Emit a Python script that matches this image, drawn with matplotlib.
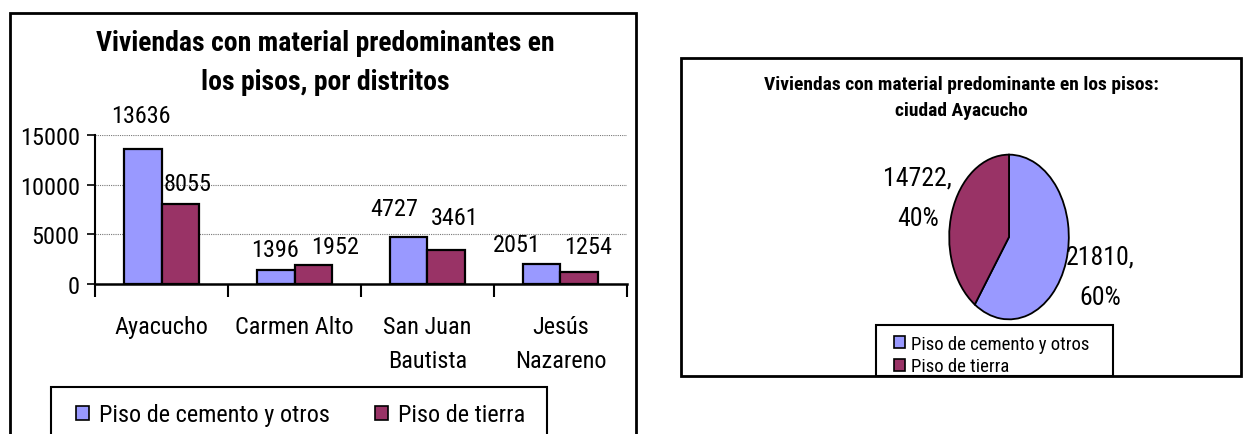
import matplotlib
matplotlib.use("Agg")
import matplotlib.pyplot as plt
from matplotlib.patches import Rectangle, Patch
from matplotlib import font_manager

# ---- data ----
districts = ["Ayacucho", "Carmen Alto", "San Juan\nBautista", "Jesús\nNazareno"]
cemento = [13636, 1396, 4727, 2051]
tierra = [8055, 1952, 3461, 1254]
series_names = ["Piso de cemento y otros", "Piso de tierra"]
yticks = [0, 5000, 10000, 15000]
pie_values = [21810, 14722]
bar_title = "Viviendas con material predominantes en\nlos pisos, por distritos"
pie_title = "Viviendas con material predominante en los pisos:\nciudad Ayacucho"

# style: data-label nudges (pixels, as placed in the original chart)
cemento_label_nudge = [(-2, 33), (-1, 21), (-15, 29), (-25, 19)]
tierra_label_nudge = [(8, 20), (22, 18), (9, 32), (9, 25)]

BLUE = "#9999FF"
RED = "#993366"

names = {f.name for f in font_manager.fontManager.ttflist}
FONT = "Liberation Sans"
for cand in ("Liberation Sans Narrow", "Arial Narrow", "Roboto Condensed", "Archivo Narrow",
             "PT Sans Narrow", "Liberation Sans"):
    if cand in names:
        FONT = cand
        break
plt.rcParams["font.family"] = [FONT, "DejaVu Sans"]

W, H = 1250, 435
fig = plt.figure(figsize=(W / 100, H / 100), dpi=100)


def rect(x0, y0, x1, y1):
    return [x0 / W, 1 - y1 / H, (x1 - x0) / W, (y1 - y0) / H]


def box(x0, y0, x1, y1, lw=2.0):
    fig.patches.append(Rectangle((x0 / W, 1 - y1 / H), (x1 - x0) / W, (y1 - y0) / H,
                                 transform=fig.transFigure, fill=False,
                                 edgecolor="black", linewidth=lw, zorder=0))


# ---- left: bar chart ----
box(10, 14, 636, 450)
ax = fig.add_axes(rect(95, 136, 627, 285))
x = list(range(len(districts)))
bw = 0.28
b1 = ax.bar([i - bw / 2 for i in x], cemento, bw, color=BLUE, edgecolor="black", linewidth=1.6, zorder=3)
b2 = ax.bar([i + bw / 2 for i in x], tierra, bw, color=RED, edgecolor="black", linewidth=1.6, zorder=3)
for bars, vals, nudges in ((b1, cemento, cemento_label_nudge), (b2, tierra, tierra_label_nudge)):
    for r, v, (dx, dy) in zip(bars, vals, nudges):
        ax.annotate(str(v), (r.get_x() + r.get_width() / 2, v), xytext=(dx, dy),
                    textcoords="offset pixels", ha="center", va="center", fontsize=17.5)
ax.set_xlim(-0.5, len(districts) - 0.5)
ax.set_ylim(0, 15000)
ax.set_yticks(yticks)
ax.tick_params(axis="y", labelsize=17.5, length=6, width=1.2, pad=5)
ax.set_xticks([i - 0.5 for i in range(len(districts) + 1)])
ax.set_xticklabels([])
ax.tick_params(axis="x", which="major", length=9, width=1.5, direction="out")
ax.set_xticks(x, minor=True)
ax.set_xticklabels(districts, minor=True, fontsize=17.5, linespacing=1.62)
ax.tick_params(axis="x", which="minor", length=0, pad=22)
for s in ("top", "right"):
    ax.spines[s].set_visible(False)
ax.spines["left"].set_linewidth(1.5)
ax.spines["bottom"].set_linewidth(1.8)
ax.yaxis.grid(True, linestyle=(0, (1, 1)), color="#777777", linewidth=0.8, zorder=0)
ax.set_axisbelow(True)
ax.patch.set_alpha(0)
fig.text(325 / W, 1 - 63 / H, bar_title, ha="center", va="center",
         fontsize=20, fontweight="bold", linespacing=1.6)

box(51, 388, 547, 450, lw=1.5)
handles = [Patch(facecolor=BLUE, edgecolor="black", linewidth=1.2),
           Patch(facecolor=RED, edgecolor="black", linewidth=1.2)]
fig.legend(handles, series_names, ncol=2, frameon=False, fontsize=17.5,
           loc="center left", bbox_to_anchor=(76 / W, 1 - 416 / H),
           borderpad=0, borderaxespad=0,
           handlelength=0.55, handleheight=0.55, handletextpad=0.4, columnspacing=1.85)

# ---- right: pie chart ----
box(681, 59, 1241, 377)
pax = fig.add_axes(rect(948, 154, 1070, 322))
pct = [round(v * 100 / sum(pie_values)) for v in pie_values]
labels = [f"{v},\n{p}%" for v, p in zip(pie_values, pct)]
pax.pie(pie_values, colors=[BLUE, RED], startangle=90, counterclock=False,
        labels=labels, labeldistance=1.6,
        wedgeprops=dict(edgecolor="black", linewidth=1.3),
        textprops=dict(fontsize=18.5, ha="center", va="center", linespacing=1.85))
pax.set_aspect("auto")
pax.set_xlim(-1.02, 1.02)
pax.set_ylim(-1.02, 1.02)
fig.text(961 / W, 1 - 98 / H, pie_title, ha="center", va="center",
         fontsize=14, fontweight="bold", linespacing=1.6)

box(876, 326, 1113, 377, lw=1.5)
fig.legend(handles, series_names, ncol=1, frameon=False, fontsize=13.5,
           loc="center left", bbox_to_anchor=(894 / W, 1 - 356 / H),
           handlelength=0.6, handleheight=0.6, handletextpad=0.3, labelspacing=0.25,
           borderpad=0, borderaxespad=0)

fig.savefig("out.png", dpi=100)
